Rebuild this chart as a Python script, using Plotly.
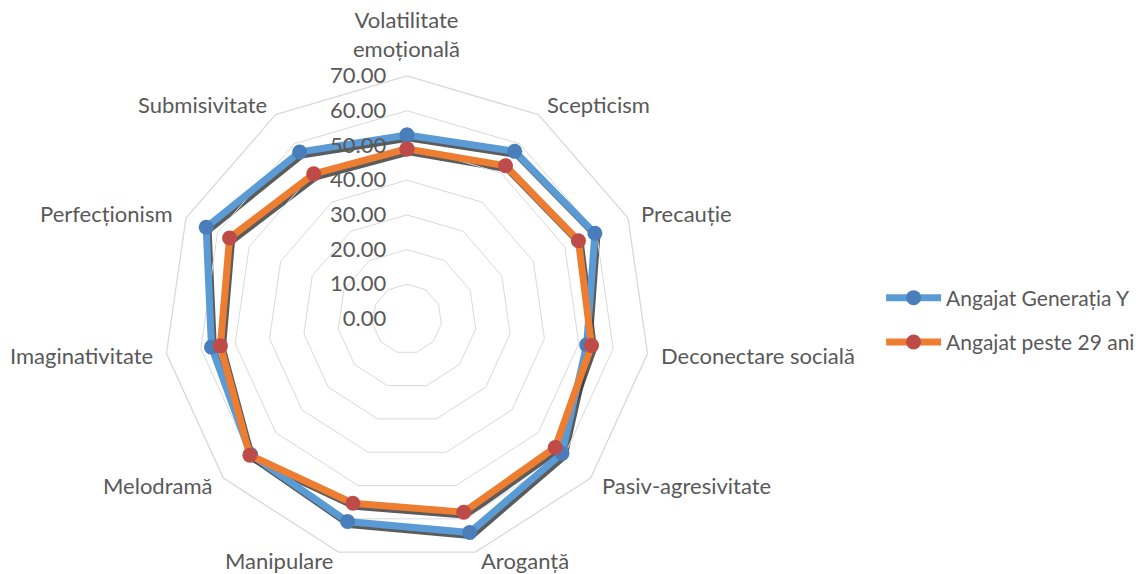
import math
import plotly.graph_objects as go

categories = ["Volatilitate<br>emoțională", "Scepticism", "Precauție", "Deconectare socială",
              "Pasiv-agresivitate", "Aroganță", "Manipulare", "Melodramă",
              "Imaginativitate", "Perfecționism", "Submisivitate"]
gen_y = [53.0, 57.4, 59.5, 52.3, 59.1, 64.1, 60.8, 59.6, 56.9, 63.6, 57.2]
peste_29 = [49.0, 52.5, 54.3, 53.7, 56.5, 58.0, 55.3, 59.9, 54.3, 56.2, 49.7]
series_names = ["Angajat Generația Y", "Angajat peste 29 ani"]
radial_ticks = [0, 10, 20, 30, 40, 50, 60, 70]

W, H = 1148, 574
cx, cy, R = 407, 319, 243          # centre / radius of the radar (px)
sx, sy = 2, 3                      # shadow offset

def dom(dx, dy):
    x0 = (cx + dx - R) / W
    x1 = (cx + dx + R) / W
    yc = H - (cy + dy)
    return dict(x=[x0, x1], y=[(yc - R) / H, (yc + R) / H])

cats_closed = categories + [categories[0]]
fig = go.Figure()

# shadows
for vals in (gen_y, peste_29):
    fig.add_trace(go.Scatterpolar(
        r=vals + [vals[0]], theta=cats_closed, mode="lines",
        line=dict(color="rgba(64,64,64,0.85)", width=7),
        showlegend=False, hoverinfo="skip", subplot="polar"))

fig.add_trace(go.Scatterpolar(
    r=gen_y + [gen_y[0]], theta=cats_closed, mode="lines+markers", name=series_names[0],
    line=dict(color="#5B9BD5", width=7), legendgroup="a",
    marker=dict(color="#4A7EBB", size=15, line=dict(width=0)),
    subplot="polar2"))
fig.add_trace(go.Scatterpolar(
    r=peste_29 + [peste_29[0]], theta=cats_closed, mode="lines+markers", name=series_names[1],
    line=dict(color="#ED7D31", width=7), legendgroup="b",
    marker=dict(color="#BE4B48", size=15, line=dict(width=0)),
    subplot="polar2"))

font_family = "Lato, Open Sans, sans-serif"
txt = "#595959"
fs = 22

# category labels placed just outside the outer ring, Excel-style anchoring
n = len(categories)
annotations = []
for i, cat in enumerate(categories):
    th = 2 * math.pi * i / n
    s, c = math.sin(th), math.cos(th)
    g = 12
    x = cx + (R + g) * s
    y = cy - (R + g) * c
    if c < -0.9:
        y -= 3   # keep the bottom labels inside the page
    if s > 0.1:
        xa = "left"
    elif s < -0.1:
        xa = "right"
    else:
        xa = "center"
    ya = "bottom" if i == 0 else "middle"
    annotations.append(dict(
        text=cat, x=x / W, y=1 - y / H, xref="paper", yref="paper",
        xanchor=xa, yanchor=ya, showarrow=False,
        font=dict(size=fs, color=txt, family=font_family)))

pad = "\u00a0\u00a0\u00a0"
fig.update_layout(
    width=W, height=H,
    margin=dict(l=0, r=0, t=0, b=0),
    paper_bgcolor="white",
    plot_bgcolor="white",
    font=dict(family=font_family, size=fs, color=txt),
    annotations=annotations,
    polar=dict(
        domain=dom(sx, sy),
        gridshape="linear",
        bgcolor="rgba(0,0,0,0)",
        radialaxis=dict(range=[0, 70], visible=False),
        angularaxis=dict(categoryorder="array", categoryarray=categories,
                         rotation=90, direction="clockwise", visible=False),
    ),
    polar2=dict(
        domain=dom(0, 0),
        gridshape="linear",
        bgcolor="rgba(0,0,0,0)",
        radialaxis=dict(range=[0, 70], tickvals=radial_ticks,
                        ticktext=[f"{v:.2f}{pad}" for v in radial_ticks],
                        angle=90, tickangle=90, side="counterclockwise",
                        showline=False, ticks="", gridcolor="#D9D9D9", gridwidth=1.3,
                        tickfont=dict(size=fs, color=txt)),
        angularaxis=dict(categoryorder="array", categoryarray=categories,
                         rotation=90, direction="clockwise", showticklabels=False,
                         showgrid=False, showline=True, linecolor="#D9D9D9", linewidth=1.3,
                         ticks=""),
    ),
    legend=dict(x=0.7675, y=0.4425, xanchor="left", yanchor="middle",
                font=dict(size=21, color=txt), itemwidth=55,
                bgcolor="rgba(0,0,0,0)", tracegroupgap=14),
)

fig.write_html("out.html", config={"displayModeBar": False},
               post_script="document.body.style.margin='0';")
